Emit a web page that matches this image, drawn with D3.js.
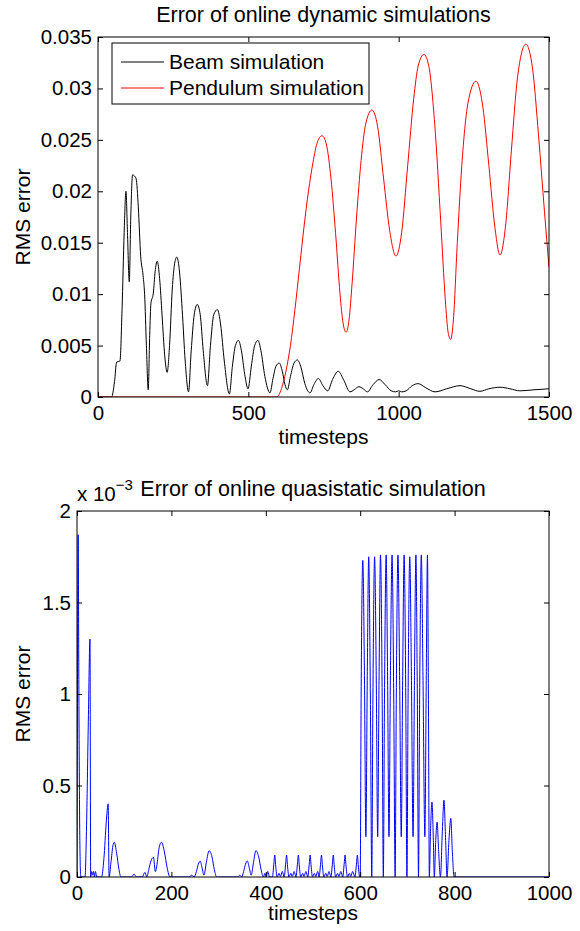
<!DOCTYPE html>
<html><head><meta charset="utf-8">
<script src="https://cdn.jsdelivr.net/npm/d3@7"></script>
<style>
html,body{margin:0;padding:0;background:#fff;}
svg{display:block;}
text{font-family:"Liberation Sans",Arial,Helvetica,sans-serif;fill:#000;}
</style></head><body>
<svg id="chart" width="580" height="931"></svg>
<script>
// ---------- DATA ----------
const topTitle = "Error of online dynamic simulations";
const bottomTitle = "Error of online quasistatic simulation";
const seriesNames = ["Beam simulation", "Pendulum simulation"];
const topXTicks = [0, 500, 1000, 1500];
const topYTicks = [0, 0.005, 0.01, 0.015, 0.02, 0.025, 0.03, 0.035];
const topYTickLabels = ["0", "0.005", "0.01", "0.015", "0.02", "0.025", "0.03", "0.035"];
const bottomXTicks = [0, 200, 400, 600, 800, 1000];
const bottomYTicks = [0, 0.5, 1, 1.5, 2];
const bottomYTickLabels = ["0", "0.5", "1", "1.5", "2"];

const beamT = [0,45,55,62,73,80,87,93,98,104,109,115,121,127,134,142,150,155,161,167,172,176,184,190,197,205,213,222,230,238,247,255,262,270,280,290,301,310,320,330,340,350,364,374,385,397,408,420,437,447,457,467,477,488,499,510,521,532,542,555,572,582,592,603,613,622,630,640,652,663,674,688,705,718,733,748,764,780,799,818,838,852,868,882,896,915,935,955,975,990,1000,1010,1025,1045,1065,1090,1121,1160,1204,1240,1270,1300,1337,1370,1403,1450,1500];
const beamY = [0,0,0.0015,0.0034,0.0035,0.0085,0.016,0.0200,0.016,0.0112,0.0175,0.0216,0.0215,0.0212,0.0185,0.0137,0.0118,0.0100,0.0050,0.0007,0.0060,0.0091,0.0101,0.0122,0.0132,0.0115,0.0080,0.0040,0.0024,0.0050,0.0105,0.0130,0.0136,0.0125,0.0085,0.0035,0.0005,0.0045,0.0080,0.0090,0.0080,0.0045,0.0011,0.0050,0.0080,0.0085,0.0070,0.0035,0.0003,0.0030,0.0050,0.0055,0.0045,0.0022,0.0008,0.0030,0.0050,0.0055,0.0045,0.0020,0.0004,0.0018,0.0030,0.0033,0.0025,0.0012,0.0007,0.0020,0.0033,0.0036,0.0030,0.0013,0.0004,0.0012,0.0018,0.0011,0.0006,0.0017,0.0025,0.0016,0.0005,0.0007,0.0010,0.0008,0.0005,0.0012,0.0017,0.0012,0.0006,0.0005,0.0006,0.0005,0.0006,0.0011,0.0013,0.0009,0.0005,0.0008,0.0011,0.0008,0.00055,0.0008,0.00095,0.0008,0.0006,0.0007,0.0008];

const pendT = [0,595,610,625,640,655,670,685,700,715,730,745,760,775,790,805,815,825,835,845,860,875,890,911,930,950,970,991,1010,1030,1050,1065,1084,1100,1120,1140,1155,1165,1173,1182,1195,1210,1230,1257,1280,1300,1320,1337,1355,1375,1395,1423,1445,1465,1485,1500];
const pendY = [0,0,0.0008,0.0025,0.0050,0.0085,0.0125,0.0165,0.0200,0.0228,0.0248,0.0254,0.0245,0.0212,0.0160,0.0100,0.0072,0.0063,0.0075,0.0110,0.0175,0.0230,0.0265,0.0279,0.0263,0.0212,0.0162,0.0137,0.0160,0.0225,0.0290,0.0322,0.0333,0.0322,0.0265,0.0170,0.0095,0.0062,0.0056,0.0075,0.0150,0.0225,0.0285,0.0307,0.0282,0.0225,0.0165,0.0138,0.0165,0.0240,0.0310,0.0343,0.0320,0.0255,0.0180,0.0126];

// quasistatic error, in units of 1e-3
const quasiT = [0,1,2.5,4,6,8,17,20,24,27.5,29,31,33,35,37,39,42,52,57,62,66,68,72,76,79,84,89,93,115,121,126,138,144,148,152,157,162,166,169,174,179,185,191,197,237,243,248,253,257,261,265,269,274,280,286,291,296,340,345,349,353,357,361,365,369,374,379,385,390,395,398,401,404,408,
414,417,419,421,424,428,431,435,439,442,444,446,449,453,456,460,464,467,469,471,474,478,481,485,489,492,494,496,499,503,506,510,513,516,518,520,523,527,530,534,538,541,543,545,548,552,555,559,563,566,568,570,573,577,580,584,589,592,594,596,599,
600,602,605.5,609,612,615,618,621.5,624.5,627,630.5,634,637,640,643,646.5,649,651.5,655,658,661,664,667.5,671,674,676.5,680,683.5,687,690,693,696.5,699,701.5,705,708.5,712,715,718,721,723.5,726,729.5,733,737,740,742.5,744.5,746.5,
749,752,755,757,760,763,766,770,774,777.5,781,784,788,792,795,799,1000];
const quasiY = [0,1.0,1.87,1.0,0.2,0,0,0.25,0.85,1.30,0,0.03,0.01,0.03,0,0.03,0,0,0.1,0.3,0.40,0,0.08,0.17,0.19,0.13,0.04,0,0,0.015,0,0,0.025,0,0.04,0.09,0.107,0.03,0.06,0.16,0.19,0.14,0.05,0,0,0.01,0,0.03,0.07,0.087,0.05,0.01,0.08,0.144,0.11,0.04,0,0,0.01,0,0.03,0.07,0.087,0.05,0.01,0.08,0.144,0.11,0.04,0,0.02,0,0.03,0,
0,0.07,0.12,0.06,0,0.02,0.003,0.03,0,0.07,0.12,0.06,0,0.02,0.003,0.03,0,0.07,0.12,0.06,0,0.02,0.003,0.03,0,0.07,0.12,0.06,0,0.02,0.003,0.03,0,0.07,0.12,0.06,0,0.02,0.003,0.03,0,0.07,0.12,0.06,0,0.02,0.003,0.03,0,0.07,0.12,0.06,0,0.02,0.003,0.03,0,0.07,0.12,0.06,0,
0,1.0,1.73,1.1,0.22,1.1,1.75,1.0,0,1.0,1.75,1.1,0.22,1.1,1.76,1.0,0,1.0,1.76,1.1,0.22,1.1,1.76,1.0,0,1.0,1.76,1.1,0.22,1.1,1.76,1.0,0,1.0,1.75,1.1,0.22,1.1,1.76,1.0,0,1.0,1.76,1.1,0.22,1.1,1.76,1.0,0,
0.25,0.41,0.2,0,0.2,0.30,0.15,0,0.25,0.42,0.2,0,0.2,0.32,0.15,0,0];

// ---------- DRAW ----------
const svg = d3.select("#chart");
const FS_TICK = 20.5, FS_LAB = 21, FS_TITLE = 21.5, FS_LEG = 21;

function panel(opt) {
  const {L, R, T, B} = opt;
  const x = d3.scaleLinear().domain(opt.xDomain).range([L, R]);
  const y = d3.scaleLinear().domain(opt.yDomain).range([B, T]);
  const g = svg.append("g");
  const clipId = opt.id + "clip";
  svg.append("clipPath").attr("id", clipId).append("rect")
    .attr("x", L).attr("y", T - 1).attr("width", R - L).attr("height", B - T + 1);

  const plot = g.append("g").attr("clip-path", `url(#${clipId})`);
  opt.series.forEach(s => {
    const pts = s.t.map((t, i) => [t, s.y[i]]);
    plot.append("path").datum(pts)
      .attr("fill", "none").attr("stroke", s.color).attr("stroke-width", 1)
      .attr("d", d3.line().x(d => x(d[0])).y(d => y(d[1])).curve(d3.curveMonotoneX));
  });

  const tick = 5;
  const xb = d3.axisBottom(x).tickValues(opt.xTicks).tickSize(-tick).tickPadding(8).tickFormat(d3.format("d"));
  const xt = d3.axisTop(x).tickValues(opt.xTicks).tickSize(-tick).tickFormat("");
  const yl = d3.axisLeft(y).tickValues(opt.yTicks).tickSize(-tick).tickPadding(6).tickFormat((d, i) => opt.yLabels[i]);
  const yr = d3.axisRight(y).tickValues(opt.yTicks).tickSize(-tick).tickFormat("");
  [[xb, `translate(0,${B})`], [xt, `translate(0,${T})`], [yl, `translate(${L},0)`], [yr, `translate(${R},0)`]].forEach(([ax, tr]) => {
    const a = g.append("g").attr("transform", tr).call(ax);
    a.select(".domain").remove();
    a.selectAll("line").attr("stroke", "#000");
    a.selectAll("text").attr("font-size", FS_TICK).attr("font-family", '"Liberation Sans",Arial,sans-serif').attr("fill", "#000");
  });
  g.append("rect").attr("x", L).attr("y", T).attr("width", R - L).attr("height", B - T)
    .attr("fill", "none").attr("stroke", "#000").attr("stroke-width", 1);

  g.append("text").attr("x", (L + R) / 2).attr("y", opt.titleY).attr("text-anchor", "middle")
    .attr("font-size", FS_TITLE).text(opt.title);
  g.append("text").attr("x", (L + R) / 2).attr("y", opt.xLabelY).attr("text-anchor", "middle")
    .attr("font-size", FS_LAB).text("timesteps");
  g.append("text").attr("transform", `translate(${opt.yLabelX},${(T + B) / 2}) rotate(-90)`)
    .attr("text-anchor", "middle").attr("font-size", FS_LAB).text("RMS error");
  return {x, y, g};
}

const topPanel = panel({
  id: "p1", L: 98, R: 549, T: 37, B: 397,
  xDomain: [0, 1500], yDomain: [0, 0.035],
  xTicks: topXTicks, yTicks: topYTicks, yLabels: topYTickLabels,
  series: [{t: beamT, y: beamY, color: "#000000"}, {t: pendT, y: pendY, color: "#ff0000"}],
  title: topTitle, titleY: 22, xLabelY: 444, yLabelX: 30
});

const lg = topPanel.g.append("g");
lg.append("rect").attr("x", 112).attr("y", 43).attr("width", 257).attr("height", 61)
  .attr("fill", "#fff").attr("stroke", "#000").attr("stroke-width", 1);
[["#000000", 62], ["#ff0000", 88]].forEach(([c, yy], i) => {
  lg.append("line").attr("x1", 121).attr("x2", 164).attr("y1", yy).attr("y2", yy)
    .attr("stroke", c).attr("stroke-width", 1);
  lg.append("text").attr("x", 169).attr("y", yy).attr("dy", "0.35em")
    .attr("font-size", FS_LEG).text(seriesNames[i]);
});

const botPanel = panel({
  id: "p2", L: 77, R: 549, T: 511, B: 877,
  xDomain: [0, 1000], yDomain: [0, 2],
  xTicks: bottomXTicks, yTicks: bottomYTicks, yLabels: bottomYTickLabels,
  series: [{t: quasiT, y: quasiY, color: "#0000ff"}],
  title: bottomTitle, titleY: 496, xLabelY: 920, yLabelX: 30
});
const ex = botPanel.g.append("text").attr("x", 77).attr("y", 501).attr("font-size", FS_TICK);
ex.append("tspan").text("x 10");
ex.append("tspan").attr("dy", -11).attr("font-size", 15).text("−3");
</script>
</body></html>
